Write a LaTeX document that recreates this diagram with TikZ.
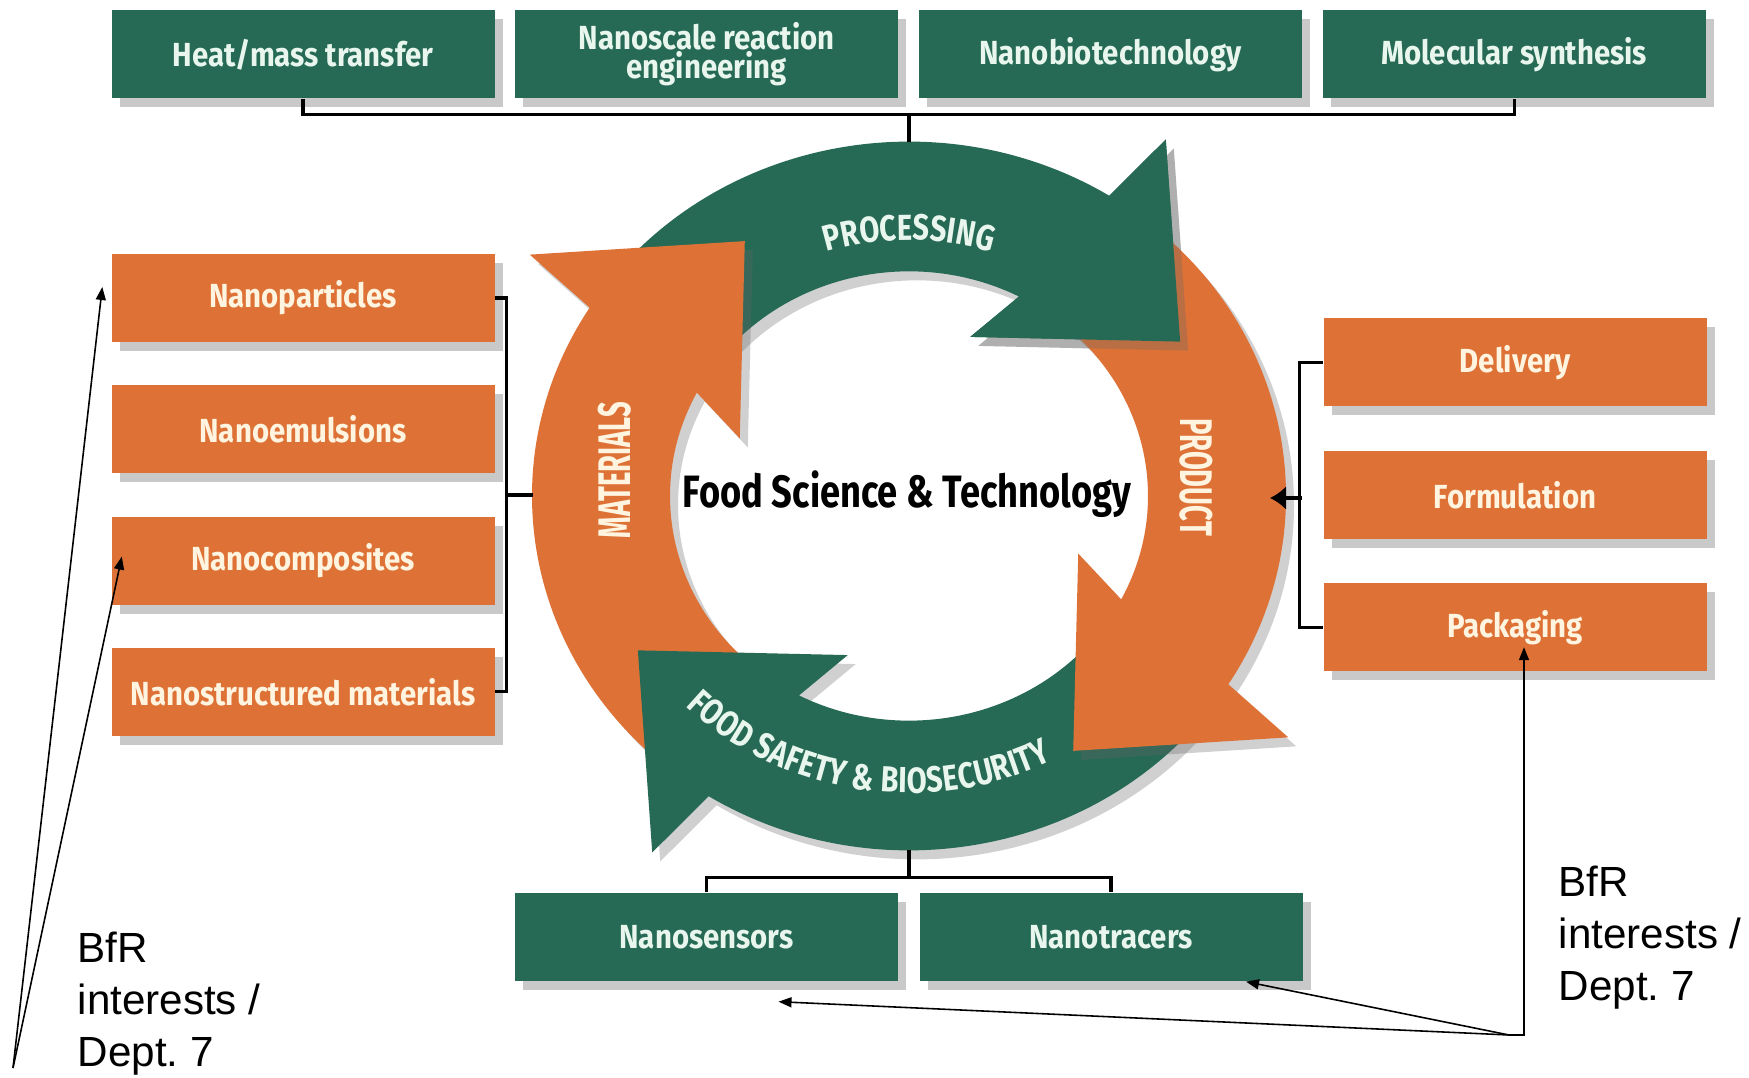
\documentclass[tikz,border=0pt]{standalone}
\usepackage{fontspec}
\setmainfont{Liberation Sans}
\newfontfamily\boxfont[FakeStretch=0.88]{Fira Sans}
\newfontfamily\ringfont[FakeStretch=0.8]{Fira Sans}
\newfontfamily\sidefont[FakeStretch=0.6]{Fira Sans}
\usetikzlibrary{positioning,calc,arrows.meta,shadows,decorations.text}

\definecolor{fsgreen}{RGB}{38,106,86}
\definecolor{fsorange}{RGB}{222,114,54}
\definecolor{boxtext}{RGB}{255,244,224}
\definecolor{greentext}{RGB}{232,246,238}

\begin{document}
\begin{tikzpicture}[
  fsbox/.style={rectangle, minimum width=3.83cm, minimum height=0.88cm, inner sep=0pt, align=center,
    font=\boxfont\bfseries\fontsize{9.5}{8.3}\selectfont,
    drop shadow={shadow xshift=0.8mm, shadow yshift=-0.9mm, fill=black!60, opacity=0.35}},
  greenbox/.style={fsbox, fill=fsgreen, text=greentext},
  orangebox/.style={fsbox, fill=fsorange, text=boxtext},
  ringshadow/.style={drop shadow={shadow xshift=0.8mm, shadow yshift=-0.9mm, fill=black!60, opacity=0.3}},
  bracket/.style={line width=0.9pt},
  note/.style={-{Triangle[length=1.3mm,width=1mm]}, line width=0.45pt},
  bfr/.style={anchor=base west, align=left, inner sep=0pt, font=\fontsize{12}{14.9}\selectfont}
]
\fill[white] (0,0) rectangle (17.49,-10.78);
\useasboundingbox (0,0) rectangle (17.49,-10.78);

  % Top row
  \foreach \t [count=\i] in {Heat/mass transfer, {Nanoscale reaction\\engineering}, Nanobiotechnology, Molecular synthesis}
    \node[greenbox] (top-\i) at ({3.03+4.037*(\i-1)}, -0.545) {\t};

  % Materials column
  \foreach \t [count=\i] in {Nanoparticles, Nanoemulsions, Nanocomposites, Nanostructured materials}
    \node[orangebox] (mat-\i) at (3.03, {-2.98-1.313*(\i-1)}) {\t};

  % Product column
  \foreach \t [count=\i] in {Delivery, Formulation, Packaging}
    \node[orangebox] (prod-\i) at (15.15, {-3.625-1.325*(\i-1)}) {\t};

  % Bottom row
  \foreach \t [count=\i] in {Nanosensors, Nanotracers}
    \node[greenbox] (safe-\i) at ({7.065+4.045*(\i-1)}, -9.37) {\t};

  % Cycle of four arrows
  \coordinate (ring) at (9.09,-4.96);
  \begin{scope}[shift={(ring)}, yscale=0.94]
    \foreach \r/\c in {0/fsgreen, 90/fsorange, 180/fsgreen, 270/fsorange}
      \fill[\c, ringshadow] (140+\r:3.77) arc[start angle=140+\r, end angle=57.9+\r, radius=3.77]
        -- (55.9+\r:4.58) -- (31.2+\r:3.17) -- (70.1+\r:1.80) -- (62.6+\r:2.39)
        arc[start angle=62.6+\r, end angle=140+\r, radius=2.39] -- cycle;
    % processing head over the product tail
    \fill[fsgreen, ringshadow] (57.9:3.77) -- (55.9:4.58) -- (31.2:3.17) -- (70.1:1.80) -- (62.6:2.39) -- cycle;
  \end{scope}

  % Ring labels
  \node[font=\ringfont\bfseries\fontsize{12.9}{14}\selectfont] (title) at (9.07,-4.94) {Food Science \& Technology};
  \node[rotate=90, text=boxtext, font=\sidefont\bfseries\fontsize{13}{14}\selectfont] (materials) at (6.15,-4.70) {MATERIALS};
  \node[rotate=-90, text=boxtext, font=\sidefont\bfseries\fontsize{13}{14}\selectfont] (product) at (11.96,-4.77) {PRODUCT};
  \path[decorate, decoration={text along path, text align=center,
      text={|\ringfont\bfseries\fontsize{10.3}{12}\selectfont\color{greentext}|PROCESSING}}]
    (ring) ++(118:2.72 and 2.56) arc[start angle=118, end angle=62, x radius=2.72, y radius=2.56];
  \path[decorate, decoration={text along path, text align=fit to path,
      text={|\ringfont\bfseries\fontsize{10.3}{12}\selectfont\color{greentext}|FOOD SAFETY {\&} BIOSECURITY}}]
    (ring) ++(225:3.16 and 2.97) arc[start angle=225, end angle=297, x radius=3.16, y radius=2.97];

  % Brackets
  \coordinate (ring-n) at (9.09,-1.42);
  \coordinate (ring-s) at (9.09,-8.50);
  \coordinate (ring-w) at (5.33,-4.95);
  \coordinate (ring-e) at (12.70,-4.98);
  \coordinate (topbar) at (9.09,-1.135);
  \coordinate (matbar) at (5.05,-4.95);
  \coordinate (prodbar) at (13.02,-4.98);
  \coordinate (safebar) at (9.09,-8.78);

  \draw[bracket] (top-1.south) -- ++(0,-0.15) -| (top-4.south);
  \draw[bracket] (topbar) -- (ring-n);
  \draw[bracket] (mat-1.east) -- ++(0.11,0) |- (mat-4.east);
  \draw[bracket] (matbar) -- (ring-w);
  \draw[bracket] (prod-1.west) -- ++(-0.23,0) |- (prod-3.west);
  \draw[bracket, -{Latex[length=1.6mm,width=2.4mm]}] (prodbar) -- (ring-e);
  \draw[bracket] (safe-1.north) -- ++(0,0.15) -| (safe-2.north);
  \draw[bracket] (safebar) -- (ring-s);

  % BfR notes
  \node[bfr] (bfr-left) at (0.77,-10.67) {BfR\\interests /\\Dept.\ 7};
  \node[bfr] (bfr-right) at (15.58,-10.01) {BfR\\interests /\\Dept.\ 7};
  \coordinate (hub-left) at (0.13,-10.68);
  \coordinate (hub-right) at (15.09,-10.35);

  \draw[note] (hub-left) -- ($(mat-1.west)+(-0.085,0.11)$);
  \draw[note] (hub-left) -- ($(mat-3.west)+(0.11,0.04)$);
  \draw[note] (hub-right) -| ($(prod-3.south)+(0.09,0.25)$);
  \draw[note] (hub-right) -- ($(safe-2.south)+(1.35,0)$);
  \draw[note] (hub-right) -- ($(safe-1.south)+(0.72,-0.2)$);

\end{tikzpicture}
\end{document}
